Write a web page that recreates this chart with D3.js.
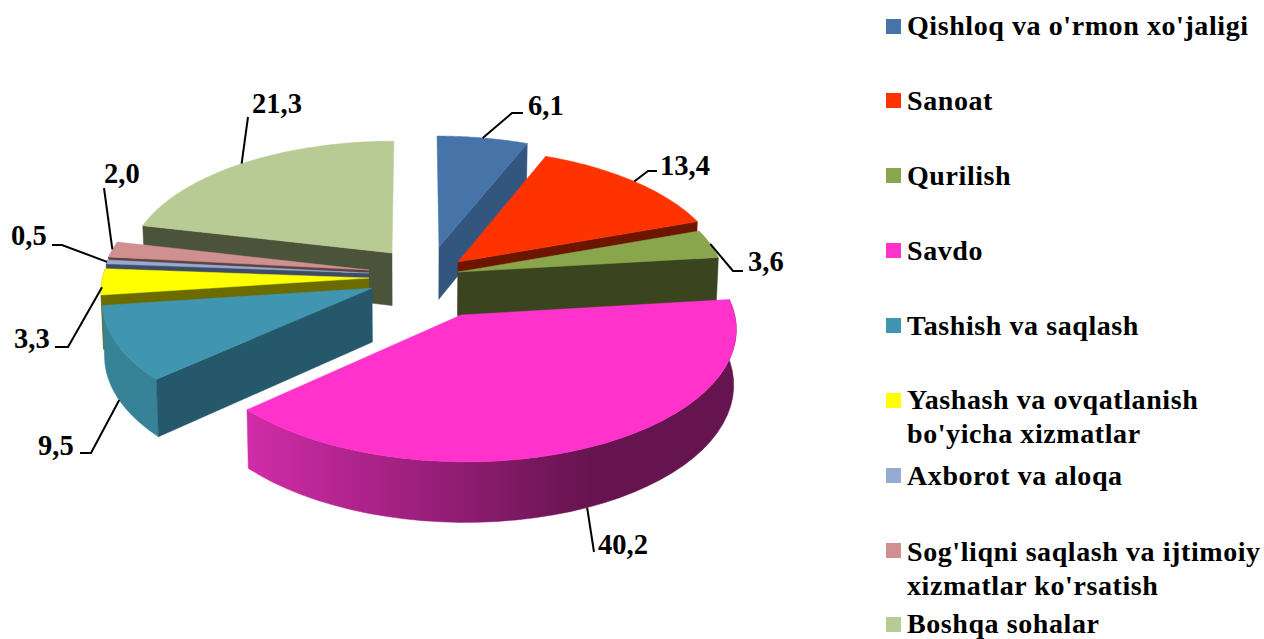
<!DOCTYPE html>
<html><head><meta charset="utf-8">
<script src="https://cdn.jsdelivr.net/npm/d3@7"></script>
<style>html,body{margin:0;padding:0;background:#fff;overflow:hidden}text{font-family:"Liberation Serif","Times New Roman",serif;font-weight:bold;fill:#000}</style>
</head><body><svg id="c" width="1264" height="639"></svg>
<script>
const categories=["Qishloq va o'rmon xo'jaligi","Sanoat","Qurilish","Savdo","Tashish va saqlash","Yashash va ovqatlanish|bo'yicha xizmatlar","Axborot va aloqa","Sog'liqni saqlash va ijtimoiy|xizmatlar ko'rsatish","Boshqa sohalar"];
const values=[6.1,13.4,3.6,40.2,9.5,3.3,0.5,2.0,21.3];
const valueLabels=["6,1","13,4","3,6","40,2","9,5","3,3","0,5","2,0","21,3"];
const topColors=["#4673a8","#ff3300","#8aa64c","#ff33cc","#4096b0","#ffff00","#95abd3","#d09090","#b9cb94"];
const wallColors=["#33567f","#6c1600","#3a441f","#66144f","#25586a","#6b6b00","#3f4c66","#5e4141","#4c533b"];
const rimColors=["#33567f","#6c1600","#4a5628","url(#savdoRim)","#368297","#8f8f00","#3f4c66","#5e4141","#4c533b"];
const sliceOffsets=[[.092,-.147],[.1632,-.0242],[.1624,.0563],[.1685,.389],[-.160,.1838],[-.1727,.104],[-.1734,.0642],[-.1736,.0403],[-.088,-.0975]];
const paintOrder=[0,8,7,6,5,1,2,4,3];
const labelLayout=[[528,115,512,113,523,113,0],[660,175,648,171,657,171,0],[748,271,733,271,743,271,0],[598,554,594,552,594,552,1],[38,455,91,453,80,453,1],[14,348,68,347,55,347,.1],[11,245,62,245,52,245,0],[104,183,104,188,104,188,0],[252,113,248,117,248,117,0]];
const legendRows=[35,110,185,260,335,409,485,561,633];
const legendMarks=[19,93,168,243,318,393,468,543,617];

const cx=415,cy=265,Rx=264,Ry=124,k=.09,H=53,taper=.992;
const svg=d3.select("#c");
const grad=svg.append("defs").append("linearGradient").attr("id","savdoRim").attr("gradientUnits","userSpaceOnUse").attr("x1",248).attr("x2",590).attr("y1",0).attr("y2",0);
grad.append("stop").attr("offset",0).attr("stop-color","#d02ca8");
grad.append("stop").attr("offset",.5).attr("stop-color","#9c1f7d");
grad.append("stop").attr("offset",1).attr("stop-color","#66144f");

function project(X,Y,z){const w=1-k*Y;let sx=cx+Rx*X/w,sy=cy+Ry*Y/w;if(z){sx=cx+(sx-cx)*(1-(1-taper)*z);sy+=z*H/w;}return [sx,sy];}
const arcs=d3.pie().sort(null).value(d=>d).startAngle(0).endAngle(2*Math.PI)(values);
const line=d3.line();
function rimPoint(i,t,z){const o=sliceOffsets[i];return project(o[0]+Math.sin(t),o[1]-Math.cos(t),z);}
function apex(i,z){const o=sliceOffsets[i];return project(o[0],o[1],z);}
function rim(i,z){const a=arcs[i];return d3.range(0,41).map(n=>rimPoint(i,a.startAngle+(a.endAngle-a.startAngle)*n/40,z));}
const g=svg.append("g");
const rimFrom=85*Math.PI/180,rimTo=275*Math.PI/180;
paintOrder.forEach(i=>{
  const a=arcs[i];
  if(a.endAngle>rimFrom&&a.startAngle<rimTo)
    g.append("path").attr("d",line(rim(i,0).concat(rim(i,1).reverse()))+"Z").attr("fill",rimColors[i]).attr("stroke",rimColors[i]).attr("stroke-width",.5);
  [[a.startAngle,-Math.sin(a.startAngle)],[a.endAngle,Math.sin(a.endAngle)]].forEach(([t,f])=>{
    if(f>0.001) g.append("path").attr("d",line([apex(i,0),rimPoint(i,t,0),rimPoint(i,t,1),apex(i,1)])+"Z").attr("fill",wallColors[i]).attr("stroke",wallColors[i]).attr("stroke-width",.5);
  });
  g.append("path").attr("d",line([apex(i,0)].concat(rim(i,0)))+"Z").attr("fill",topColors[i]).attr("stroke",topColors[i]).attr("stroke-width",.5);
});
arcs.forEach((a,i)=>{
  const [lx,ly,ex,ey,hx,hy,z]=labelLayout[i];
  const s=rimPoint(i,(a.startAngle+a.endAngle)/2,z);
  svg.append("path").attr("d",line([s,[ex,ey],[hx,hy]])).attr("fill","none").attr("stroke","#000").attr("stroke-width",2);
  svg.append("text").attr("x",lx).attr("y",ly).attr("font-size",28.5).text(valueLabels[i]);
});
categories.forEach((c,i)=>{
  svg.append("rect").attr("x",886).attr("y",legendMarks[i]).attr("width",15).attr("height",15).attr("fill",topColors[i]);
  c.split("|").forEach((t,j)=>{
    svg.append("text").attr("x",907).attr("y",legendRows[i]+j*34).attr("font-size",28).style("letter-spacing","0.58px").text(t);
  });
});
</script></body></html>
